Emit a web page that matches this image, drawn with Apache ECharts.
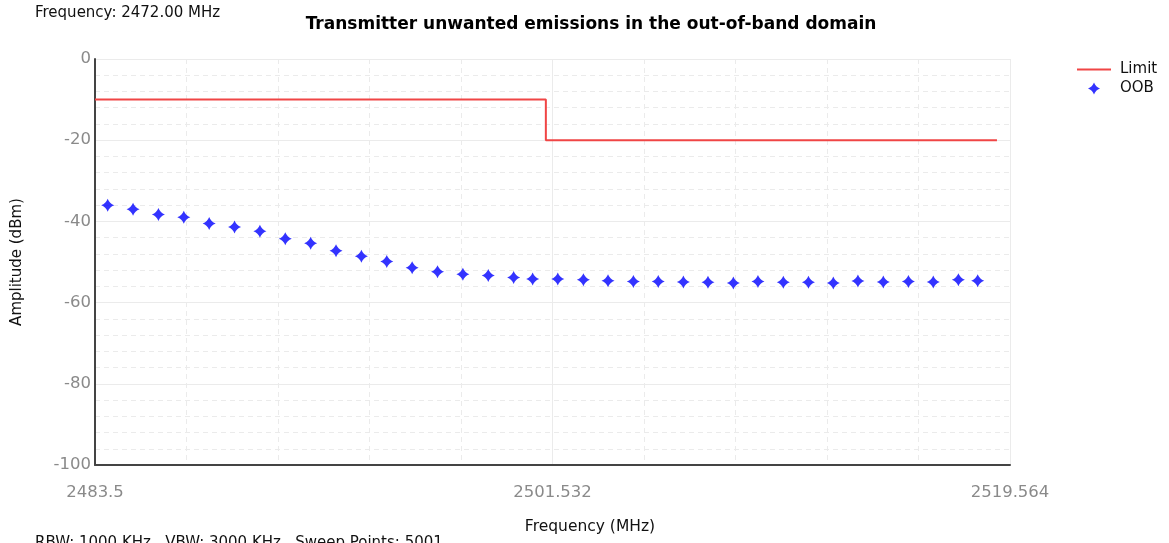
<!DOCTYPE html>
<html>
<head>
<meta charset="utf-8">
<script src="https://cdn.jsdelivr.net/npm/echarts@6/dist/echarts.min.js"></script>
<style>
  html, body { margin: 0; padding: 0; background: #fff; }
  #chart { width: 1169px; height: 543px; }
</style>
</head>
<body>
<div id="chart"></div>
<script>
// ---- Data ----
const X_MIN = 2483.5;
const X_MAX = 2519.564;
const X_TICK_STEP = 18.032;
const xTickLabels = ['2483.5', '2501.532', '2519.564'];

const limitFreq  = [2483.5, 2501.27, 2501.27, 2519.05];
const limitLevel = [-10, -10, -20, -20];

const oobFreq = [
  2484.0, 2485.0, 2486.0, 2487.0, 2488.0, 2489.0, 2490.0, 2491.0, 2492.0,
  2493.0, 2494.0, 2495.0, 2496.0, 2497.0, 2498.0, 2499.0, 2500.0,
  2500.75, 2501.74, 2502.75, 2503.72, 2504.72, 2505.70, 2506.69, 2507.66,
  2508.66, 2509.63, 2510.63, 2511.62, 2512.60, 2513.57, 2514.57, 2515.56,
  2516.54, 2517.53, 2518.29
];
const oobLevel = [
  -36.0, -37.0, -38.3, -39.0, -40.5, -41.4, -42.4, -44.3, -45.4,
  -47.2, -48.6, -49.9, -51.4, -52.4, -53.0, -53.3, -53.8,
  -54.2, -54.2, -54.4, -54.6, -54.8, -54.8, -54.9, -55.0,
  -55.2, -54.8, -55.0, -55.0, -55.2, -54.7, -54.9, -54.8,
  -54.9, -54.4, -54.6
];

const yMin = -100, yMax = 0, yStep = 20;

// ---- Build series data (x offset from axis minimum so ticks start at min) ----
const limitData = limitFreq.map((f, i) => [f - X_MIN, limitLevel[i]]);
const oobData = oobFreq.map((f, i) => [f - X_MIN, oobLevel[i]]);

const FONT = 'DejaVu Sans, Liberation Sans, Arial, sans-serif';
const starPath = 'path://M0,-10 Q2.8,-2.8 10,0 Q2.8,2.8 0,10 Q-2.8,2.8 -10,0 Q-2.8,-2.8 0,-10 Z';
const limitIcon = 'path://M0,0 L34,0 L34,2.2 L0,2.2 Z';

const gridColor = '#ebebeb';
const chart = echarts.init(document.getElementById('chart'), null, { renderer: 'canvas' });
chart.setOption({
  animation: false,
  backgroundColor: '#ffffff',
  textStyle: { fontFamily: FONT },
  title: {
    text: 'Transmitter unwanted emissions in the out-of-band domain',
    left: 586, top: 11, textAlign: 'center',
    textStyle: { fontSize: 17, fontWeight: 'bold', color: '#000', fontFamily: FONT }
  },
  graphic: [
    { type: 'text', left: 35, top: 6,
      style: { text: 'Frequency: 2472.00 MHz', fontSize: 15, fill: '#111', fontFamily: FONT } },
    { type: 'text', left: 35, top: 536,
      style: { text: 'RBW: 1000 KHz   VBW: 3000 KHz   Sweep Points: 5001', fontSize: 15, fill: '#111', fontFamily: FONT } },
    { type: 'text', x: 590, y: 527,
      style: { text: 'Frequency (MHz)', fontSize: 15.5, fill: '#111', align: 'center', verticalAlign: 'middle', fontFamily: FONT } }
  ],
  legend: {
    orient: 'vertical', left: 1077, top: 62, padding: 0,
    itemWidth: 34, itemHeight: 12, itemGap: 4,
    textStyle: { fontSize: 15, color: '#111', fontFamily: FONT, padding: [0, 0, 0, 4] },
    data: [
      { name: 'Limit', icon: limitIcon },
      { name: 'OOB' }
    ]
  },
  grid: { left: 95, right: 159, top: 59, bottom: 78, containLabel: false },
  xAxis: {
    type: 'value',
    min: 0, max: X_MAX - X_MIN, interval: X_TICK_STEP,
    axisLine: { show: true, onZero: false, lineStyle: { color: '#444', width: 2 } },
    axisTick: { show: false },
    axisLabel: {
      margin: 19, fontSize: 16.5, color: '#8a8a8a', fontFamily: FONT,
      formatter: (v) => {
        const idx = Math.round(v / X_TICK_STEP);
        return xTickLabels[idx] !== undefined ? xTickLabels[idx] : '';
      }
    },
    splitLine: { show: true, lineStyle: { color: gridColor, width: 1 } },
    minorTick: { show: false, splitNumber: 5 },
    minorSplitLine: { show: true, lineStyle: { color: gridColor, width: 1, type: [5, 4] } }
  },
  yAxis: {
    type: 'value',
    min: yMin, max: yMax, interval: yStep,
    name: 'Amplitude (dBm)', nameLocation: 'middle', nameGap: 70,
    nameTextStyle: { fontSize: 15, color: '#111', fontFamily: FONT },
    axisLine: { show: true, lineStyle: { color: '#444', width: 2 } },
    axisTick: { show: false },
    axisLabel: { margin: 4, fontSize: 16.5, color: '#8a8a8a', fontFamily: FONT },
    splitLine: { show: true, lineStyle: { color: gridColor, width: 1 } },
    minorTick: { show: false, splitNumber: 5 },
    minorSplitLine: { show: true, lineStyle: { color: gridColor, width: 1, type: [5, 4] } }
  },
  series: [
    {
      name: 'Limit', type: 'line', data: limitData,
      symbol: 'none', color: '#f04545',
      lineStyle: { color: '#f04545', width: 2 },
      z: 3
    },
    {
      name: 'OOB', type: 'scatter', data: oobData,
      symbol: starPath, symbolSize: 13, color: '#0000ff',
      itemStyle: { color: '#0000ff' },
      z: 4
    }
  ]
});
</script>
</body>
</html>
